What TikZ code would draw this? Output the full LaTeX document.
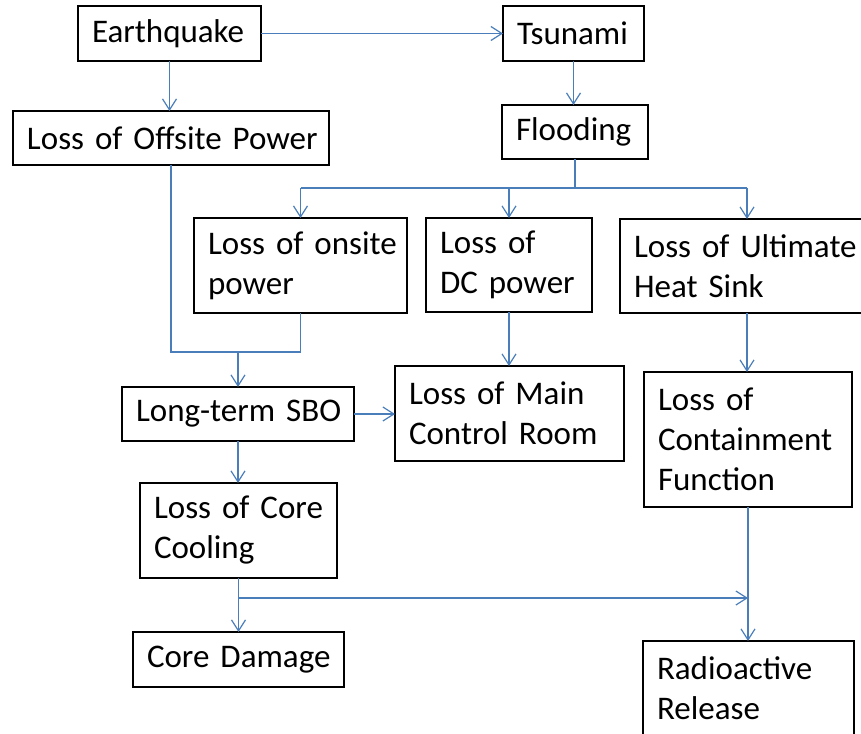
\documentclass[tikz,border=0pt]{standalone}
\usepackage{fontspec}
\setmainfont{Carlito}
\usetikzlibrary{arrows.meta,calc}
\definecolor{lnblue}{RGB}{74,126,187}
\begin{document}
\begin{tikzpicture}[x=1pt,y=-1pt,
  box/.style={draw=black, line width=1.3pt, anchor=north west, inner xsep=14pt, inner ysep=0pt,
    align=left, font=\fontsize{33}{40}\selectfont, outer sep=0pt},
  conn/.style={draw=lnblue, line width=1.2pt},
  arr/.style={conn, -{Straight Barb[length=11pt,width=14pt]}}]
\useasboundingbox (0,0) rectangle (861,733);
\clip (0,0) rectangle (861,733);

\node[box, minimum width=183pt, text width=155pt, minimum height=55pt] (eq) at (78,6) {\mbox{Earthquake}};
\node[box, minimum width=141pt, text width=113pt, minimum height=55pt] (ts) at (503,6) {\mbox{Tsunami}};
\node[box, minimum width=316pt, text width=288pt, minimum height=54pt] (lop) at (13,111) {\mbox{Loss of Offsite Power}};
\node[box, minimum width=146pt, text width=118pt, minimum height=54pt] (fl) at (502,105) {\mbox{Flooding}};
\node[box, minimum width=213pt, text width=185pt, minimum height=95pt] (on) at (194,218) {\mbox{Loss of onsite}\\\mbox{power}};
\node[box, minimum width=166pt, text width=138pt, minimum height=94pt] (dc) at (426,218) {\mbox{Loss of}\\\mbox{DC power}};
\node[box, minimum width=254pt, text width=226pt, minimum height=94pt] (uhs) at (620,219) {\mbox{Loss of Ultimate}\\\mbox{Heat Sink}};
\node[box, minimum width=232pt, text width=204pt, minimum height=54pt] (sbo) at (122,387) {\mbox{Long-term SBO}};
\node[box, minimum width=229pt, text width=201pt, minimum height=95pt] (mcr) at (395,366) {\mbox{Loss of Main}\\\mbox{Control Room}};
\node[box, minimum width=208pt, text width=180pt, minimum height=135pt] (cf) at (644,372) {\mbox{Loss of}\\\mbox{Containment}\\\mbox{Function}};
\node[box, minimum width=197pt, text width=169pt, minimum height=95pt] (cc) at (140,483) {\mbox{Loss of Core}\\\mbox{Cooling}};
\node[box, minimum width=211pt, text width=183pt, minimum height=55pt] (cd) at (133,632) {\mbox{Core Damage}};
\node[box, minimum width=211pt, text width=183pt, minimum height=95pt] (rr) at (643,641) {\mbox{Radioactive}\\\mbox{Release}};

\coordinate (br) at (575,188);
\coordinate (j) at (236,352);
\coordinate (h) at (0,598);

\draw[arr] (eq) -- (ts);
\draw[arr] (eq.south) -- (eq.south |- lop.north);
\draw[arr] (ts.south) -- (ts.south |- fl.north);
\draw[conn] (fl.south) -- (fl.south |- br);
\draw[conn] (on.north |- br) -- (uhs.north |- br);
\draw[arr] (on.north |- br) -- (on.north);
\draw[arr] (dc.north |- br) -- (dc.north);
\draw[arr] (uhs.north |- br) -- (uhs.north);
\draw[conn] (lop.south) -- (lop.south |- j) -- (on.south |- j) -- (on.south);
\draw[arr] (sbo.north |- j) -- (sbo.north);
\draw[arr] (sbo.east) -- (sbo.east -| mcr.west);
\draw[arr] (dc.south) -- (dc.south |- mcr.north);
\draw[arr] (uhs.south) -- (uhs.south |- cf.north);
\draw[arr] (sbo.south) -- (sbo.south |- cc.north);
\draw[arr] (cc.south) -- (cc.south |- cd.north);
\draw[arr] (cc.south |- h) -- (cf.south |- h);
\draw[arr] (cf.south) -- (cf.south |- rr.north);
\end{tikzpicture}
\end{document}
